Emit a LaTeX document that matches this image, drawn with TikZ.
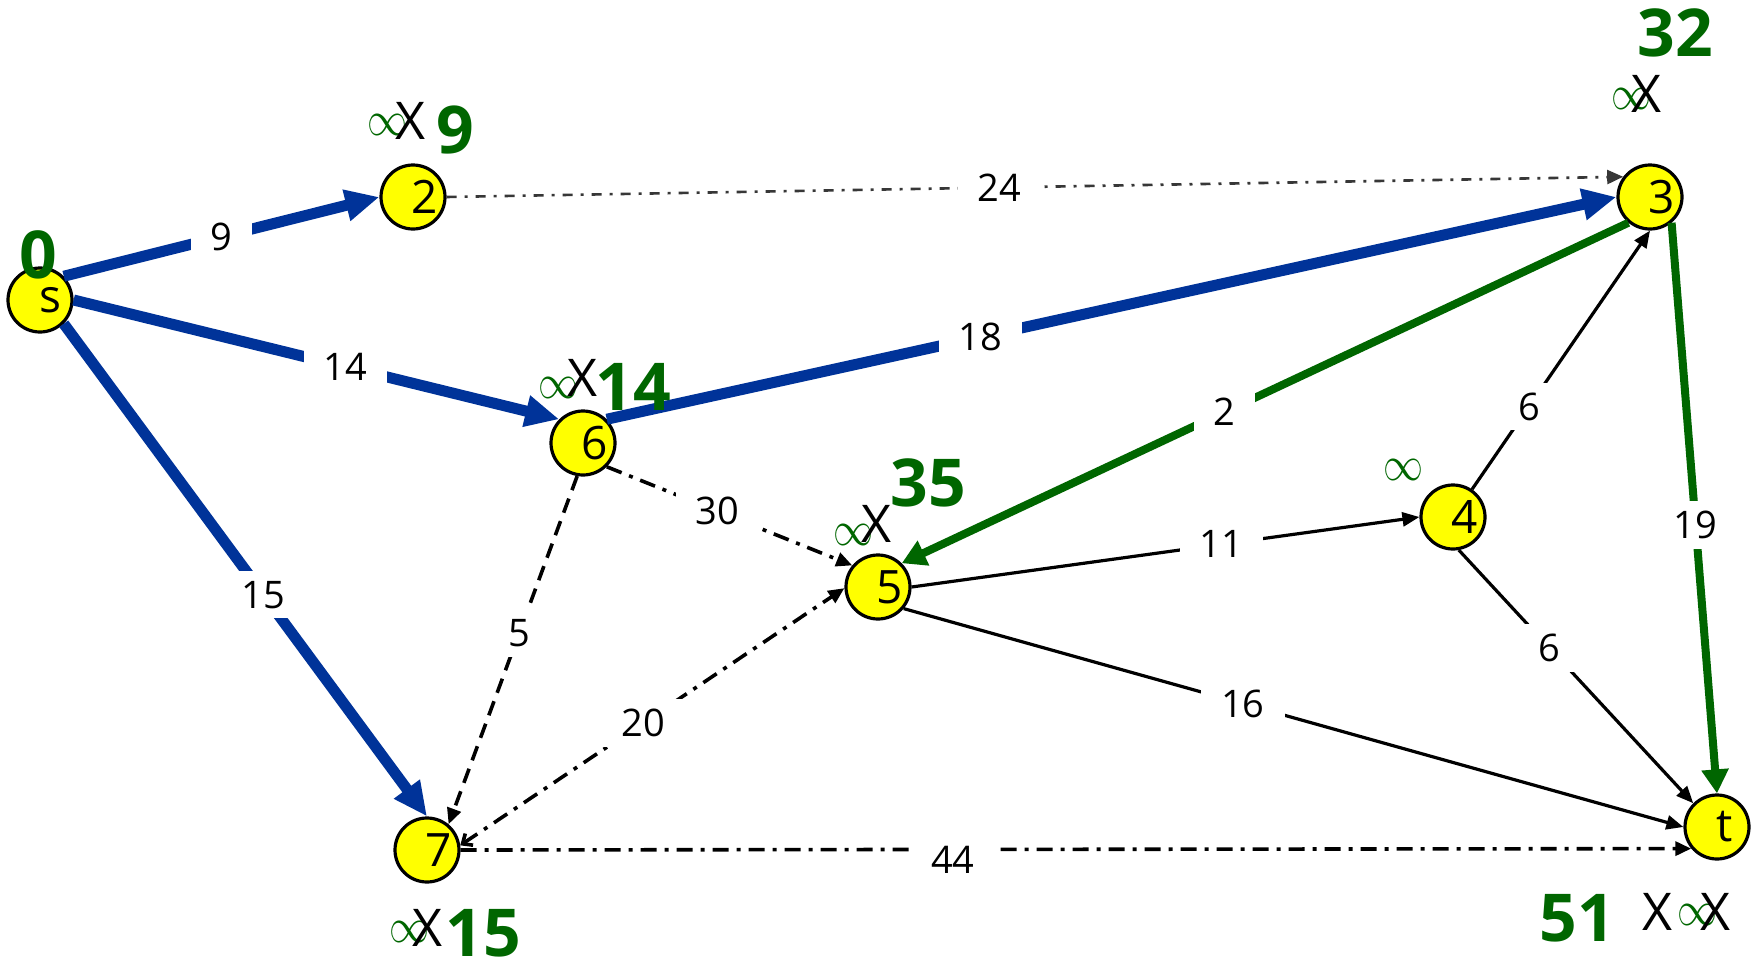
\documentclass[tikz,border=0pt]{standalone}
\usepackage{fontspec}
\usepackage{graphicx}
\setmainfont{Open Sans}
\usetikzlibrary{arrows.meta}
\definecolor{eblue}{RGB}{0,51,153}
\definecolor{egreen}{RGB}{0,102,0}
\definecolor{eyellow}{RGB}{255,255,0}
\definecolor{egray}{RGB}{55,55,55}
\newcommand{\myinf}{\resizebox{20pt}{10.5pt}{$\infty$}}
\begin{document}
\begin{tikzpicture}[x=0.5pt,y=-0.5pt,
 vert/.style={circle,draw=black,line width=1.6pt,fill=eyellow,minimum size=32pt,inner sep=0pt,font=\fontsize{23}{26}\selectfont},
 wlab/.style={fill=white,inner xsep=10pt,inner ysep=5pt,font=\fontsize{19}{22}\selectfont,text=black},
 blueedge/.style={draw=eblue,line width=5.5pt,-{Triangle[length=17pt,width=15pt]}},
 greenedge/.style={draw=egreen,line width=4pt,-{Triangle[length=12pt,width=13pt]}},
 thinedge/.style={draw=black,line width=1.6pt,-{Triangle[length=8.5pt,width=7pt]}},
 ddedge/.style={draw=black,line width=1.8pt,dash pattern=on 8pt off 4pt on 2pt off 4pt,-{Triangle[length=8pt,width=7pt]}},
 gddedge/.style={draw=egray,line width=1.3pt,dash pattern=on 5pt off 4pt on 1.5pt off 4pt,-{Triangle[length=8pt,width=7pt]}},
 dashedge/.style={draw=black,line width=1.8pt,dash pattern=on 7.5pt off 4.5pt,-{Triangle[length=8pt,width=7pt]}},
 dist/.style={text=egreen,font=\fontsize{33}{36}\selectfont\bfseries,inner sep=0pt},
 inf/.style={text=egreen,inner sep=0pt},
 cross/.style={text=black,font=\fontsize{26}{28}\selectfont,inner sep=0pt},
]
\useasboundingbox[fill=white] (0,0) rectangle (1758,959);

% vertices
\node[vert] (s) at (40,300) {\raisebox{-2pt}{\hspace*{10pt}s}};
\node[vert] (2) at (413,197) {\hspace*{12pt}2};
\node[vert] (6) at (583,443) {\hspace*{12pt}6};
\node[vert] (5) at (878,587) {\hspace*{12pt}5};
\node[vert] (3) at (1650,197) {\hspace*{12pt}3};
\node[vert] (4) at (1453,517) {\hspace*{12pt}4};
\node[vert] (7) at (427,850) {\hspace*{12pt}7};
\node[vert] (t) at (1717,827) {\hspace*{8pt}t};

% edges
\draw[gddedge] (2.east) -- node[wlab,pos=0.47]{24} (3.143);
\draw[blueedge] (s.45) -- node[wlab,pos=0.5]{9} (2.west);
\draw[blueedge] (s.east) -- node[wlab,pos=0.56]{14} (6.135);
\draw[blueedge] (s.-45) -- node[wlab,pos=0.55]{15} (7.north);
\draw[blueedge] (6.45) -- node[wlab,pos=0.37]{18} (3.west);
\draw[greenedge] (3.230) -- node[wlab,pos=0.556]{2} (5.45);
\draw[greenedge] (3.-50) -- node[wlab,pos=0.53]{19} (t.north);
\draw[ddedge] (6.-45) -- node[wlab,pos=0.45]{30} (5.140);
\draw[dashedge] (6.-100) -- node[wlab,pos=0.45]{5} (7.50);
\draw[ddedge,{Straight Barb[length=4pt,width=7pt]}-{Triangle[length=8pt,width=7pt]}] (7.8) -- node[wlab,pos=0.477]{20} (5.182);
\draw[ddedge] (7.east) -- node[wlab,pos=0.4,yshift=-5pt]{44} (t.220);
\draw[thinedge] (5.east) -- node[wlab,pos=0.61]{11} (4.west);
\draw[thinedge] (5.-40) -- node[wlab,pos=0.435]{16} (t.west);
\draw[thinedge] (4) -- node[wlab,pos=0.32]{6} (3.south);
\draw[thinedge] (4.-80) -- node[wlab,pos=0.386]{6} (t.135);

% distance labels
\node[dist] (ds) at (38,255) {0};

\node[inf] (i2) at (387,125) {\myinf};
\node[cross] (x2) at (411,121) {X};
\node[dist] (d2) at (455,130) {9};

\node[inf] (i6) at (558,388) {\myinf};
\node[cross] (x6) at (583,378) {X};
\node[dist] (d6) at (633,387) {14};

\node[inf] (i5) at (853,535) {\myinf};
\node[cross] (x5) at (876,524) {X};
\node[dist] (d5) at (928,483) {35};

\node[inf] (i3) at (1631,99) {\myinf};
\node[cross] (x3) at (1646,94) {X};
\node[dist] (d3) at (1675,33) {32};

\node[inf] (i4) at (1403,470) {\myinf};

\node[inf] (i7) at (409,932) {\myinf};
\node[cross] (x7) at (428,928) {X};
\node[dist] (d7) at (483,933) {15};

\node[dist] (dt) at (1577,918) {51};
\node[cross] (xt1) at (1657,912) {X};
\node[inf] (it) at (1697,915) {\myinf};
\node[cross] (xt2) at (1715,912) {X};
\end{tikzpicture}
\end{document}
